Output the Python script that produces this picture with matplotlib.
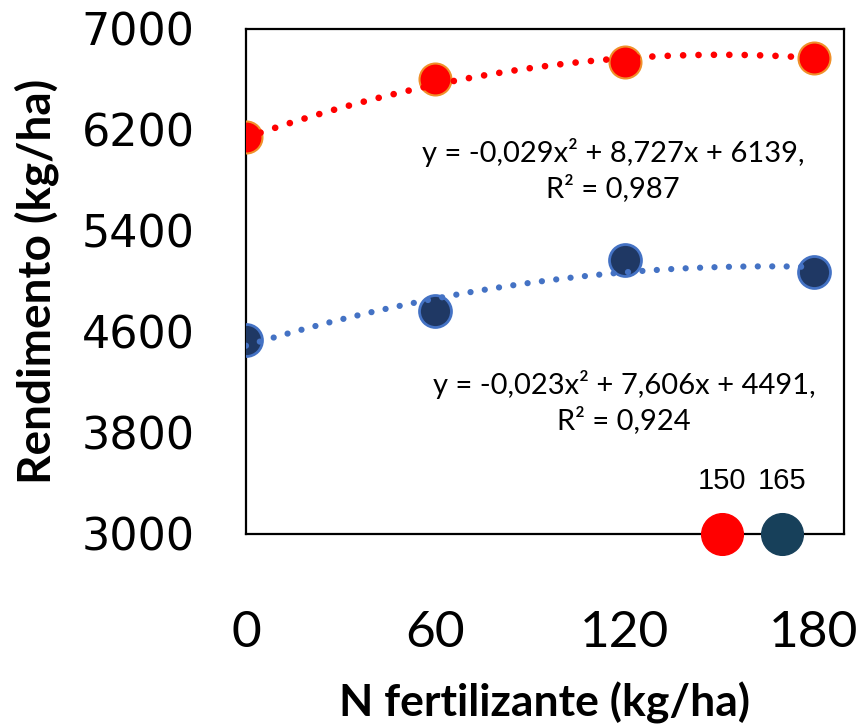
import matplotlib
matplotlib.use('Agg')
import matplotlib.pyplot as plt
import numpy as np

# Datos
n_dosis = [0, 60, 120, 180]
rend_rojo = [6145, 6600, 6739, 6770]
rend_azul = [4537, 4766, 5170, 5075]

# Coeficientes de las tendencias (ax^2 + bx + c)
coef_rojo = [-0.029, 8.727, 6139]
coef_azul = [-0.023, 7.606, 4491]
eq_rojo = 'y = -0,029x² + 8,727x + 6139,\nR² = 0,987'
eq_azul = 'y = -0,023x² + 7,606x + 4491,\nR² = 0,924'

# Dosis óptimas (posición en el eje y etiqueta)
opt_pos = [151, 170]
opt_lab = ['150', '165']
opt_col = ['#ff0000', '#17405a']

y_ticks = [3000, 3800, 4600, 5400, 6200, 7000]
x_ticks = [0, 60, 120, 180]

fig = plt.figure(figsize=(8.6, 7.26), dpi=100)
ax = fig.add_axes([0.286, 0.2645, 0.6953, 0.6956])

xs = np.linspace(0, 180, 200)
dots = (0, (0.01, 2.3))

# Puntos
ax.plot(n_dosis, rend_rojo, 'o', ms=23, color='#ff0000', mec='#f0902a', mew=1.5, zorder=3)
ax.plot(n_dosis, rend_azul, 'o', ms=23, color='#1f3864', mec='#4472c4', mew=2, zorder=3)

# Líneas de tendencia
ax.plot(xs, np.polyval(coef_rojo, xs), color='#ff0000', lw=4.8, ls=dots,
        dash_capstyle='round', zorder=4)
ax.plot(xs, np.polyval(coef_azul, xs), color='#4472c4', lw=4.5, ls=dots,
        dash_capstyle='round', zorder=4)

ax.text(116.3, 5883, eq_rojo, ha='center', va='center', fontsize=21,
        family='Lato', linespacing=1.3)
ax.text(119.8, 4042, eq_azul, ha='center', va='center', fontsize=21,
        family='Lato', linespacing=1.3)

# Dosis óptimas sobre el eje
for p, lab, c in zip(opt_pos, opt_lab, opt_col):
    ax.plot([p], [3000], 'o', ms=30, color=c, clip_on=False, zorder=6)
    ax.annotate(lab, (p, 3000), xytext=(0, 38), textcoords='offset points',
                ha='center', va='center', fontsize=21, family='Liberation Sans')

ax.set_xlim(0, 189.5)
ax.set_ylim(3000, 7000)
ax.set_xticks(x_ticks)
ax.set_yticks(y_ticks)
ax.tick_params(axis='both', length=0)
ax.tick_params(axis='y', pad=37, labelsize=32)
ax.tick_params(axis='x', pad=55)
for lab in ax.get_xticklabels():
    lab.set_family('Lato')
    lab.set_fontsize(37)
for lab in ax.get_yticklabels():
    lab.set_family('DejaVu Sans')

for s in ax.spines.values():
    s.set_linewidth(1.6)
    s.set_color('black')

ax.set_xlabel('N fertilizante (kg/ha)', fontsize=32, fontweight='bold',
              family='Lato', labelpad=18)
ax.set_ylabel('Rendimento (kg/ha)', fontsize=33, fontweight='bold',
              family='Lato', labelpad=16)

fig.savefig('out.png', dpi=100)
